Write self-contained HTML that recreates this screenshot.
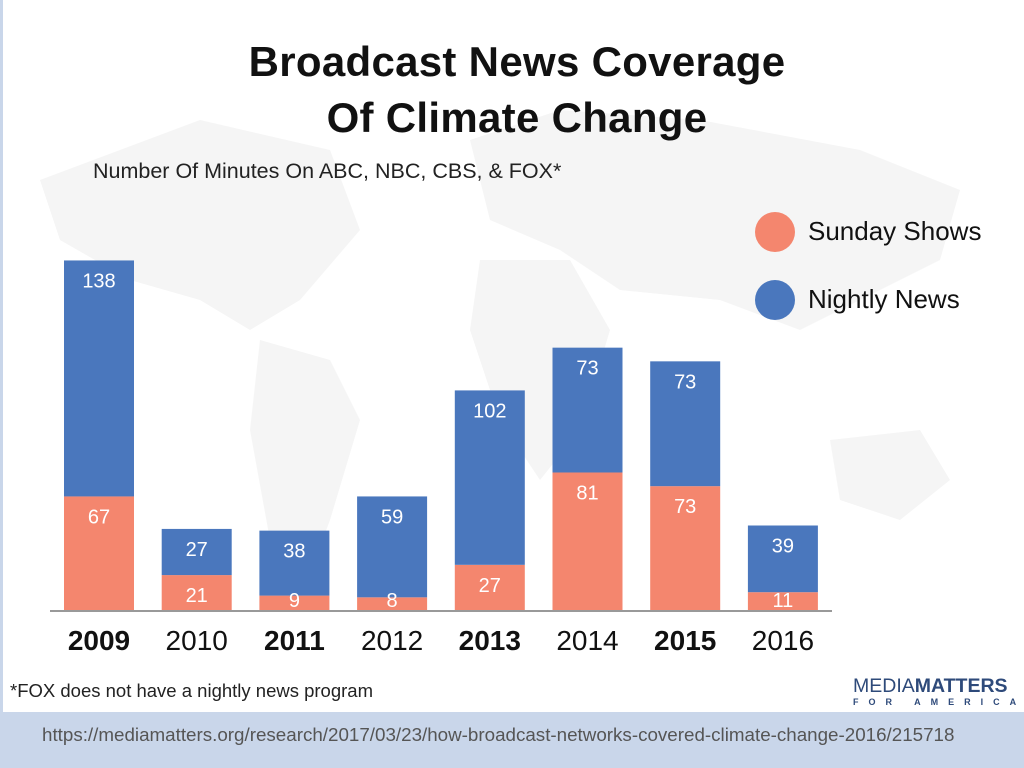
<!DOCTYPE html>
<html><head><meta charset="utf-8"><style>
body{margin:0;width:1024px;height:768px;overflow:hidden;background:#fff;font-family:"Liberation Sans",sans-serif;position:relative}
.t{position:absolute;white-space:nowrap}
</style></head><body>
<div style="position:absolute;left:0;top:0;width:3px;height:712px;background:#c9d6ea"></div>
<svg style="position:absolute;left:0;top:0" width="1024" height="712">
<g fill="#f5f5f5">
<path d="M40 180 L200 120 L330 150 L360 230 L300 300 L250 330 L200 300 L130 280 L60 240Z"/>
<path d="M260 340 L330 360 L360 420 L330 520 L300 600 L270 540 L250 430Z"/>
<path d="M470 140 L560 110 L700 120 L860 150 L960 190 L940 260 L860 300 L800 330 L720 300 L620 290 L560 250 L490 220Z"/>
<path d="M480 260 L570 260 L610 330 L580 430 L540 480 L500 420 L470 330Z"/>
<path d="M830 440 L920 430 L950 480 L900 520 L840 500Z"/>
</g></svg>
<div class="t" style="left:0;width:1034px;top:34px;text-align:center;font-size:42px;font-weight:bold;line-height:56px;color:#111;letter-spacing:0.3px">Broadcast News Coverage<br>Of Climate Change</div>
<div class="t" style="left:93px;top:159px;font-size:21.5px;color:#222">Number Of Minutes On ABC, NBC, CBS, &amp; FOX*</div>
<div style="position:absolute;left:755px;top:212px;width:40px;height:40px;border-radius:50%;background:#f4866e"></div>
<div class="t" style="left:808px;top:216px;font-size:26px;color:#111">Sunday Shows</div>
<div style="position:absolute;left:755px;top:280px;width:40px;height:40px;border-radius:50%;background:#4a77bd"></div>
<div class="t" style="left:808px;top:284px;font-size:26px;color:#111">Nightly News</div>
<svg id="chart" style="position:absolute;left:0;top:0" width="1024" height="712"></svg>
<div class="t" style="left:10px;top:680px;font-size:18.5px;color:#222">*FOX does not have a nightly news program</div>
<div class="t" style="left:853px;top:676px;font-size:19.5px;color:#2e4a7a;line-height:20px">MEDIA<b>MATTERS</b><div style="font-size:9px;letter-spacing:10px;line-height:12px;font-weight:bold">FOR AMERICA</div></div>
<div style="position:absolute;left:0;top:712px;width:1024px;height:56px;background:#c9d6ea"></div>
<div class="t" style="left:42px;top:724px;font-size:18.8px;color:#555">https://mediamatters.org/research/2017/03/23/how-broadcast-networks-covered-climate-change-2016/215718</div>
<script>
const years=["2009","2010","2011","2012","2013","2014","2015","2016"];
const bold=[true,false,true,false,true,false,true,false];
const sunday=[67,21,9,8,27,81,73,11];
const nightly=[138,27,38,59,102,73,73,39];
const svg=document.getElementById('chart');
const NS='http://www.w3.org/2000/svg';
const base=611, k=1.71, x0=64, step=97.7, bw=70;
const X=i=>x0+i*step, Y=v=>base-v*k;
function mk(t,a){const e=document.createElementNS(NS,t);for(const n in a)e.setAttribute(n,a[n]);svg.appendChild(e);return e;}
years.forEach((yr,i)=>{
  const s=sunday[i], n=nightly[i];
  let r=mk('rect',{x:X(i),y:Y(s),width:bw,height:s*k,fill:'#f4866e'});
  
  
  r=mk('rect',{x:X(i),y:Y(s+n),width:bw,height:n*k,fill:'#4a77bd'});
  
  
  let t=mk('text',{x:X(i)+bw/2,y:s>15?Y(s)+27:base-4,'text-anchor':'middle','font-size':20,fill:'#fff','font-family':'Liberation Sans'});
  t.textContent=s;
  
  
  t=mk('text',{x:X(i)+bw/2,y:Y(s+n)+27,'text-anchor':'middle','font-size':20,fill:'#fff','font-family':'Liberation Sans'});
  t.textContent=n;
  
  
  t=mk('text',{x:X(i)+bw/2,y:650,'text-anchor':'middle','font-size':28,'font-weight':bold[i]?'bold':'normal',fill:'#111','font-family':'Liberation Sans'});
  t.textContent=yr;
  
  
});
const ax=mk('line',{x1:50,x2:832,y1:base,y2:base,stroke:'#999','stroke-width':2});


</script>
</body></html>
